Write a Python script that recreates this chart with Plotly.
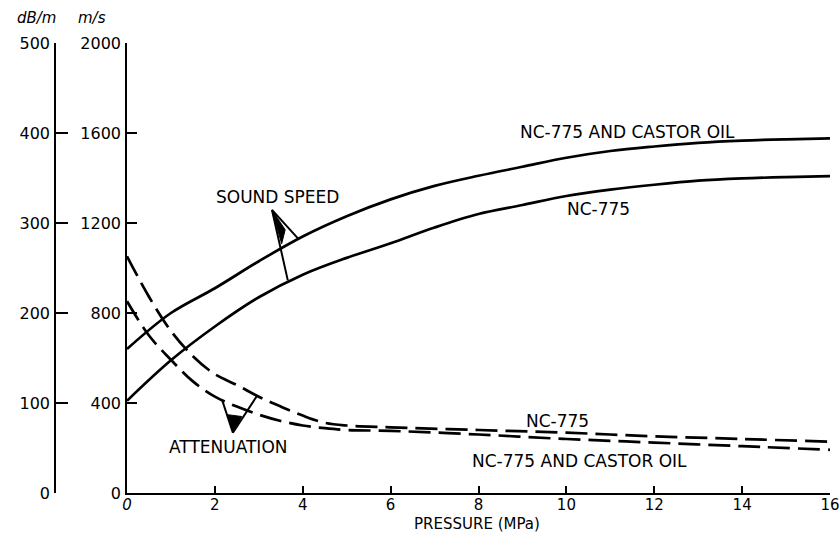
import plotly.graph_objects as go

# ---- data ----
pressure = [0, 1, 2, 3, 4, 5, 6, 7, 8, 9, 10, 11, 12, 13, 14, 15, 16]
speed_castor = [640, 800, 910, 1030, 1140, 1230, 1305, 1365, 1410, 1450, 1490, 1520, 1540, 1556, 1566, 1572, 1576]
speed_nc775 = [410, 590, 740, 870, 970, 1045, 1110, 1180, 1240, 1280, 1320, 1348, 1370, 1388, 1398, 1404, 1408]

att_pressure = [0, 0.5, 1, 1.5, 2, 2.5, 3, 3.5, 4, 4.5, 5, 6, 8, 10, 12, 14, 16]
att_nc775 = [263, 218, 180, 152, 132, 120, 107, 96, 86, 78, 75, 73, 70, 67, 63, 60, 57]
att_castor = [213, 175, 148, 124, 107, 96, 87, 80, 75, 72, 70, 69, 65, 60, 56, 52, 48]

x_ticks = [0, 2, 4, 6, 8, 10, 12, 14, 16]
speed_ticks = [0, 400, 800, 1200, 1600, 2000]
att_ticks = [0, 100, 200, 300, 400, 500]

FONT = "DejaVu Sans"
W, H = 840, 538
ML, MR, MT, MB = 0, 10, 43, 45
plot_w = W - ML - MR
plot_h = H - MT - MB
x0_px = 127
dB_axis_px = 55

fig = go.Figure()

solid = dict(color="black", width=2.7)
dashed = dict(color="black", width=2.7, dash="22px,8px")

fig.add_trace(go.Scatter(x=pressure, y=speed_castor, mode="lines", line=dict(**solid, shape="spline", smoothing=1.0),
                         name="Sound speed, NC-775 and castor oil", yaxis="y"))
fig.add_trace(go.Scatter(x=pressure, y=speed_nc775, mode="lines", line=dict(**solid, shape="spline", smoothing=1.0),
                         name="Sound speed, NC-775", yaxis="y"))
fig.add_trace(go.Scatter(x=att_pressure, y=att_nc775, mode="lines", line=dict(**dashed, shape="spline", smoothing=1.0),
                         name="Attenuation, NC-775", yaxis="y2"))
fig.add_trace(go.Scatter(x=att_pressure, y=att_castor, mode="lines", line=dict(**dashed, shape="spline", smoothing=1.0),
                         name="Attenuation, NC-775 and castor oil", yaxis="y2"))

# pointer shapes (bracket arrows from labels to curves)
shapes = []
apex = (3.30, 1258)
lo_end = (3.66, 945)
up_end = (3.89, 1132)
for end in (lo_end, up_end):
    shapes.append(dict(type="line", xref="x", yref="y", x0=apex[0], y0=apex[1], x1=end[0], y1=end[1],
                       line=dict(color="black", width=2)))
shapes.append(dict(type="path", xref="x", yref="y",
                   path=f"M {apex[0]},{apex[1]} L {apex[0]+0.22},{apex[1]-150} L {apex[0]+0.30},{apex[1]-88} Z",
                   fillcolor="black", line=dict(color="black", width=1)))
apex2 = (2.41, 67)
l2 = (2.16, 104)
r2 = (2.96, 108)
for end in (l2, r2):
    shapes.append(dict(type="line", xref="x", yref="y2", x0=apex2[0], y0=apex2[1], x1=end[0], y1=end[1],
                       line=dict(color="black", width=2)))
shapes.append(dict(type="path", xref="x", yref="y2",
                   path=f"M {apex2[0]},{apex2[1]} L {apex2[0]-0.12},{apex2[1]+20} L {apex2[0]+0.2},{apex2[1]+18} Z",
                   fillcolor="black", line=dict(color="black", width=1)))


def px_to_paper_x(px):
    return (px - ML) / plot_w


def px_to_paper_y(py):
    return (H - MB - py) / plot_h


ann_font = dict(family=FONT, size=17, color="black")
annotations = [
    dict(text="NC-775 AND CASTOR OIL", x=11.38, y=1604, xref="x", yref="y", showarrow=False, font=ann_font),
    dict(text="NC-775", x=10.72, y=1262, xref="x", yref="y", showarrow=False, font=ann_font),
    dict(text="SOUND SPEED", x=3.42, y=1316, xref="x", yref="y", showarrow=False, font=ann_font),
    dict(text="ATTENUATION", x=2.30, y=51, xref="x", yref="y2", showarrow=False, font=ann_font),
    dict(text="NC-775", x=9.8, y=80, xref="x", yref="y2", showarrow=False, font=ann_font),
    dict(text="NC-775 AND CASTOR OIL", x=10.3, y=36, xref="x", yref="y2", showarrow=False, font=ann_font),
    dict(text="PRESSURE (MPa)", x=px_to_paper_x(477), y=px_to_paper_y(524), xref="paper", yref="paper",
         showarrow=False, font=dict(family=FONT, size=15, color="black")),
    dict(text="<i>dB/m</i>", x=px_to_paper_x(36), y=px_to_paper_y(18), xref="paper", yref="paper",
         showarrow=False, font=dict(family=FONT, size=15, color="black")),
    dict(text="<i>m/s</i>", x=px_to_paper_x(92), y=px_to_paper_y(18), xref="paper", yref="paper",
         showarrow=False, font=dict(family=FONT, size=15, color="black")),
]
for a in annotations:
    a["xanchor"] = "center"
    a["yanchor"] = "middle"

axis_common = dict(showgrid=False, zeroline=False, showline=True, linecolor="black", linewidth=1.6,
                   ticks="inside", tickcolor="black", tickwidth=1.6)

fig.update_layout(
    width=W, height=H,
    margin=dict(l=ML, r=MR, t=MT, b=MB, autoexpand=False),
    paper_bgcolor="white", plot_bgcolor="white",
    showlegend=False,
    xaxis=dict(domain=[px_to_paper_x(x0_px), 1], range=[0, 16], tickvals=x_ticks,
               ticktext=["<i>0</i>"] + [str(v) for v in x_ticks[1:]], ticklen=7,
               ticklabeloverflow="allow", ticklabelstandoff=-3,
               tickfont=dict(family=FONT, size=15, color="black"),
               automargin=False, **axis_common),
    yaxis=dict(range=[0, 2000], tickvals=speed_ticks, ticktext=[str(v) for v in speed_ticks], ticklen=10,
               anchor="x", side="left", automargin=False, ticklabelstandoff=1,
               tickfont=dict(family=FONT, size=16, color="black"), **axis_common),
    yaxis2=dict(range=[0, 500], tickvals=att_ticks, ticktext=[str(v) for v in att_ticks], ticklen=12,
                anchor="free", position=px_to_paper_x(dB_axis_px), overlaying="y", side="left",
                automargin=False, ticklabelstandoff=1,
                tickfont=dict(family=FONT, size=16, color="black"), **axis_common),
    shapes=shapes,
    annotations=annotations,
)

fig.write_html("out.html", config={"displayModeBar": False},
               post_script="document.body.style.margin='0';document.body.style.overflow='hidden';")
